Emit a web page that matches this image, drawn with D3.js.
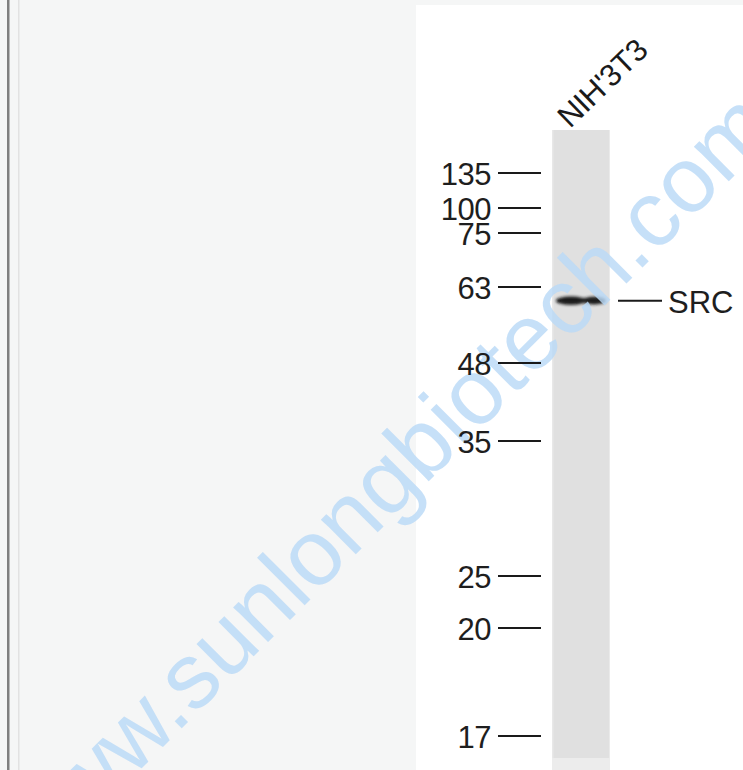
<!DOCTYPE html>
<html>
<head>
<meta charset="utf-8">
<script src="https://cdn.jsdelivr.net/npm/d3@7"></script>
<style>
  html, body { margin: 0; padding: 0; background: #f5f6f6; }
  svg { display: block; }
</style>
</head>
<body>
<svg id="chart" width="743" height="770"></svg>
<script>
// ---- data ----
const markerKDa = [135, 100, 75, 63, 48, 35, 25, 20, 17];
const markerLabels = ["135", "100", "75", "63", "48", "35", "25", "20", "17"];
const lanes = ["NIH'3T3"];
const bands = [{ lane: "NIH'3T3", kDa: 60, label: "SRC" }];
const watermark = "www.sunlongbiotech.com";

// ---- layout ----
const W = 743, H = 770;
const markerPixel = [173, 208, 233, 287, 363, 441, 576, 628, 736]; // gel migration positions
const y = d3.scaleLog().domain(markerKDa).range(markerPixel);
const x = d3.scaleBand().domain(lanes).range([552, 610]).padding(0);

const svg = d3.select("#chart");
const font = "'Liberation Sans', Arial, Helvetica, sans-serif";

const defs = svg.append("defs");
defs.append("filter").attr("id", "blur").attr("x", "-20%").attr("y", "-100%").attr("width", "140%").attr("height", "300%")
  .append("feGaussianBlur").attr("stdDeviation", "1.6 1.4");

// page background & frame lines
svg.append("rect").attr("width", W).attr("height", H).attr("fill", "#f5f6f6");
svg.append("rect").attr("x", 7).attr("y", 0).attr("width", 2.5).attr("height", H).attr("fill", "#7f7f7f");
svg.append("rect").attr("x", 18).attr("y", 0).attr("width", 1.5).attr("height", H).attr("fill", "#e2e2e2");

// white panel
svg.append("rect").attr("x", 416).attr("y", 5).attr("width", W - 416).attr("height", H - 5).attr("fill", "#ffffff");

// lane
lanes.forEach(l => {
  svg.append("rect").attr("x", x(l)).attr("y", 130).attr("width", x.bandwidth()).attr("height", 628).attr("fill", "#e0e0e0");
  svg.append("rect").attr("x", x(l)).attr("y", 130).attr("width", 1.5).attr("height", 628).attr("fill", "#e8e8e8");
  svg.append("rect").attr("x", x(l) + x.bandwidth() - 1).attr("y", 130).attr("width", 1).attr("height", 628).attr("fill", "#eaeaea");
  svg.append("rect").attr("x", x(l)).attr("y", 758).attr("width", x.bandwidth()).attr("height", 12).attr("fill", "#ececec");
});

// bands
bands.forEach(b => {
  const bx = x(b.lane), by = y(b.kDa);
  const g = svg.append("g").attr("filter", "url(#blur)");
  g.append("ellipse").attr("cx", bx + 19).attr("cy", by).attr("rx", 15).attr("ry", 4.2).attr("fill", "#0d0d0d");
  g.append("ellipse").attr("cx", bx + 42).attr("cy", by).attr("rx", 12).attr("ry", 3.8).attr("fill", "#161616");
  g.append("rect").attr("x", bx + 8).attr("y", by - 2.5).attr("width", 44).attr("height", 5).attr("fill", "#1a1a1a");
});

// watermark
svg.append("text")
  .attr("transform", "translate(37,873) rotate(-45)")
  .attr("font-family", font).attr("font-size", 93)
  .attr("fill", "#b9d9f7").attr("fill-opacity", 0.82)
  .text(watermark);

// marker ticks and labels
const mk = svg.append("g");
markerKDa.forEach((k, i) => {
  mk.append("line").attr("x1", 498).attr("x2", 541).attr("y1", y(k)).attr("y2", y(k))
    .attr("stroke", "#1a1a1a").attr("stroke-width", 2);
  mk.append("text").attr("x", 491).attr("y", y(k) + 12).attr("text-anchor", "end")
    .attr("font-family", font).attr("font-size", 31).attr("fill", "#1e1e1e")
    .attr("letter-spacing", -0.5).text(markerLabels[i]);
});

// band labels
bands.forEach(b => {
  const by = y(b.kDa);
  svg.append("line").attr("x1", 618).attr("x2", 662).attr("y1", by).attr("y2", by)
    .attr("stroke", "#1a1a1a").attr("stroke-width", 2);
  svg.append("text").attr("x", 668).attr("y", by + 12)
    .attr("font-family", font).attr("font-size", 31).attr("fill", "#1e1e1e").text(b.label);
});

// lane label
lanes.forEach(l => {
  svg.append("text")
    .attr("transform", `translate(${x(l) + 18},129) rotate(-44)`)
    .attr("font-family", font).attr("font-size", 31).attr("fill", "#1a1a1a")
    .attr("letter-spacing", -0.3)
    .text(l);
});
</script>
</body>
</html>
